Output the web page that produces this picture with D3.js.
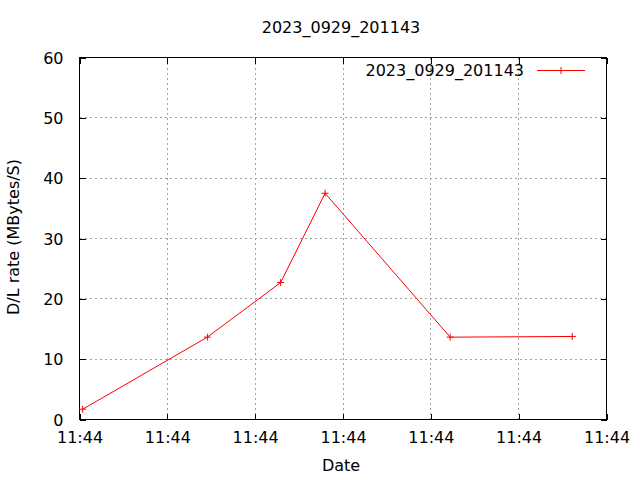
<!DOCTYPE html>
<html>
<head>
<meta charset="utf-8">
<script src="https://cdn.jsdelivr.net/npm/d3@7"></script>
<style>
  html, body { margin: 0; padding: 0; background: #fff; }
  svg { display: block; font-family: "DejaVu Sans", sans-serif; }
</style>
</head>
<body>
<svg id="chart" width="640" height="480"></svg>
<script>
// ---- data ----
const seriesName = "2023_0929_201143";
const sampleTimes = ["11:44:00.18", "11:44:07.28", "11:44:11.45", "11:44:13.98", "11:44:21.10", "11:44:28.05"];
const rates = [1.7, 13.65, 22.7, 37.5, 13.65, 13.76];
const xDomainTimes = ["11:44:00", "11:44:30"];
const yTicks = [0, 10, 20, 30, 40, 50, 60];
const titleText = "2023_0929_201143";
const xLabel = "Date";
const yLabel = "D/L rate (MBytes/S)";

// ---- setup ----
const parse = s => {
  const [h, m, sec] = s.split(":");
  const d = new Date(2023, 8, 29, +h, +m, 0, 0);
  return new Date(d.getTime() + parseFloat(sec) * 1000);
};
const data = sampleTimes.map((t, i) => ({ t: parse(t), v: rates[i] }));

const L = 79.5, R = 606.5, T = 57.5, B = 419.5;
const svg = d3.select("#chart");

const x = d3.scaleTime().domain(xDomainTimes.map(parse)).range([L, R]);
const y = d3.scaleLinear().domain([0, 60]).range([B, T]);
const xTickVals = x.ticks(d3.timeSecond.every(5));
const fmt = d3.timeFormat("%H:%M");

// grid
const grid = svg.append("g").attr("stroke", "#a0a0a0").attr("stroke-width", 1)
  .attr("stroke-dasharray", "2,3").attr("shape-rendering", "crispEdges");
grid.selectAll(".gx").data(xTickVals.slice(1, -1)).join("line")
  .attr("x1", d => Math.round(x(d) - 0.5) + 0.5).attr("x2", d => Math.round(x(d) - 0.5) + 0.5)
  .attr("y1", T).attr("y2", B);
grid.selectAll(".gy").data(yTicks.slice(1, -1)).join("line")
  .attr("y1", d => Math.round(y(d) - 0.5) + 0.5).attr("y2", d => Math.round(y(d) - 0.5) + 0.5)
  .attr("x1", L).attr("x2", R);

// axes (gnuplot-style: inward ticks, mirrored)
const tickLen = 6;
const axisStyle = g => {
  g.select(".domain").remove();
  g.selectAll(".tick line").attr("stroke", "#000").attr("shape-rendering", "crispEdges");
  g.selectAll(".tick text").attr("fill", "#000").attr("font-size", 16)
    .attr("font-family", "DejaVu Sans, sans-serif");
};
svg.append("g").attr("transform", `translate(0,${B})`)
  .call(d3.axisBottom(x).tickValues(xTickVals).tickFormat(fmt).tickSizeInner(-tickLen).tickSizeOuter(0).tickPadding(12.3))
  .call(axisStyle)
  .call(g => g.selectAll(".tick text").attr("dy", "0.71em"));
svg.append("g").attr("transform", `translate(0,${T})`)
  .call(d3.axisTop(x).tickValues(xTickVals).tickFormat("").tickSizeInner(-tickLen).tickSizeOuter(0))
  .call(axisStyle);
svg.append("g").attr("transform", `translate(${L},0)`)
  .call(d3.axisLeft(y).tickValues(yTicks).tickSizeInner(-tickLen).tickSizeOuter(0).tickPadding(16))
  .call(axisStyle)
  .call(g => g.selectAll(".tick text").attr("dy", "0.35em"));
svg.append("g").attr("transform", `translate(${R},0)`)
  .call(d3.axisRight(y).tickValues(yTicks).tickFormat("").tickSizeInner(-tickLen).tickSizeOuter(0))
  .call(axisStyle);

// border
svg.append("rect").attr("x", L).attr("y", T).attr("width", R - L).attr("height", B - T)
  .attr("fill", "none").attr("stroke", "#000").attr("stroke-width", 1).attr("shape-rendering", "crispEdges");

// series
const color = "#ff0000";
svg.append("path").datum(data)
  .attr("fill", "none").attr("stroke", color).attr("stroke-width", 1)
  .attr("d", d3.line().x(d => x(d.t)).y(d => y(d.v)));
const plus = s => `M-3.5,0H3.5M0,-3.5V3.5`;
svg.append("g").selectAll("path").data(data).join("path")
  .attr("transform", d => `translate(${x(d.t)},${y(d.v)})`)
  .attr("d", plus).attr("stroke", color).attr("stroke-width", 1).attr("fill", "none");

// legend
const leg = svg.append("g");
leg.append("text").attr("x", 524).attr("y", 76).attr("text-anchor", "end")
  .attr("font-size", 16).attr("fill", "#000").text(seriesName);
leg.append("line").attr("x1", 537).attr("x2", 585).attr("y1", 70.5).attr("y2", 70.5)
  .attr("stroke", color).attr("stroke-width", 1);
leg.append("path").attr("transform", "translate(561,70.5)").attr("d", plus())
  .attr("stroke", color).attr("fill", "none");

// titles
svg.append("text").attr("x", 341).attr("y", 33).attr("text-anchor", "middle")
  .attr("font-size", 16).attr("fill", "#000").text(titleText);
svg.append("text").attr("x", 341).attr("y", 471).attr("text-anchor", "middle")
  .attr("font-size", 16).attr("fill", "#000").text(xLabel);
svg.append("text").attr("transform", "translate(19,237) rotate(-90)").attr("text-anchor", "middle")
  .attr("font-size", 16).attr("fill", "#000").text(yLabel);
</script>
</body>
</html>
